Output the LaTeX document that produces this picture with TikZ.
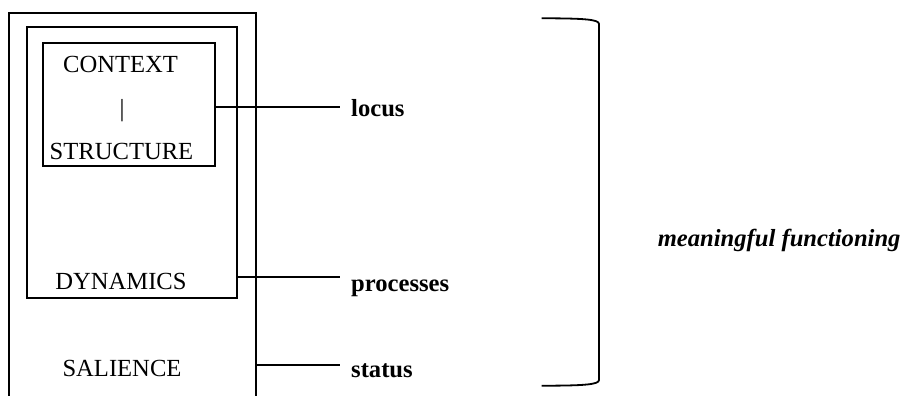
\documentclass[tikz,border=0pt]{standalone}
\usepackage{fontspec}
\setmainfont{Liberation Serif}
\begin{document}
\begin{tikzpicture}[x=1pt,y=-1pt,
  frame/.style={draw, line width=1.8pt, rectangle, inner sep=0pt},
  word/.style={font=\fontsize{24.6}{29}\selectfont, inner sep=0pt, anchor=base},
  tag/.style={font=\fontsize{24.6}{29}\selectfont\bfseries, inner sep=0pt, anchor=base west},
  link/.style={line width=1.8pt}]
\useasboundingbox (0,0) rectangle (905,396);

% nested frames
\node[frame, minimum width=172.3pt, minimum height=122.4pt] (inner) at (128.85,104.5) {};
\node[frame, minimum width=209.4pt, minimum height=271.6pt] (middle) at (132,162.5) {};
\coordinate (oBL) at (8.7,396);
\coordinate (oTL) at (8.7,12.7);
\coordinate (oTR) at (255.7,12.7);
\coordinate (oBR) at (255.7,396);
\draw[link] (oBL) -- (oTL) -- (oTR) -- (oBR);

% texts inside the frames
\node[word] (context) at (120.5,73) {CONTEXT};
\node[word] (bar) at (122,117) {|};
\node[word] (structure) at (121.5,159) {STRUCTURE};
\node[word] (dynamics) at (121,289) {DYNAMICS};
\node[word] (salience) at (122,376) {SALIENCE};

% labels on the right of the frames
\node[tag] (locus) at (351,117) {locus};
\node[tag] (processes) at (351,291) {processes};
\node[tag] (status) at (351,377) {status};

% connectors from each frame to its label
\coordinate (locusEnd) at (340,106.7);
\coordinate (procEnd) at (340,276.7);
\coordinate (statEnd) at (340,365);
\draw[link] (inner.east |- locusEnd) -- (locusEnd);
\draw[link] (middle.east |- procEnd) -- (procEnd);
\draw[link] (oTR |- statEnd) -- (statEnd);

% closing bracket
\coordinate (brTop) at (541.7,18.3);
\coordinate (brBot) at (541.7,385.7);
\draw[link] (brTop) .. controls (585,18.3) and (599,19.5) .. (599,24)
  -- (599,380) .. controls (599,384.5) and (585,385.7) .. (brBot);

\node[font=\fontsize{24.6}{29}\selectfont\bfseries\itshape, inner sep=0pt, anchor=base east]
  (meaning) at (900.7,246.7) {meaningful functioning};
\end{tikzpicture}
\end{document}
